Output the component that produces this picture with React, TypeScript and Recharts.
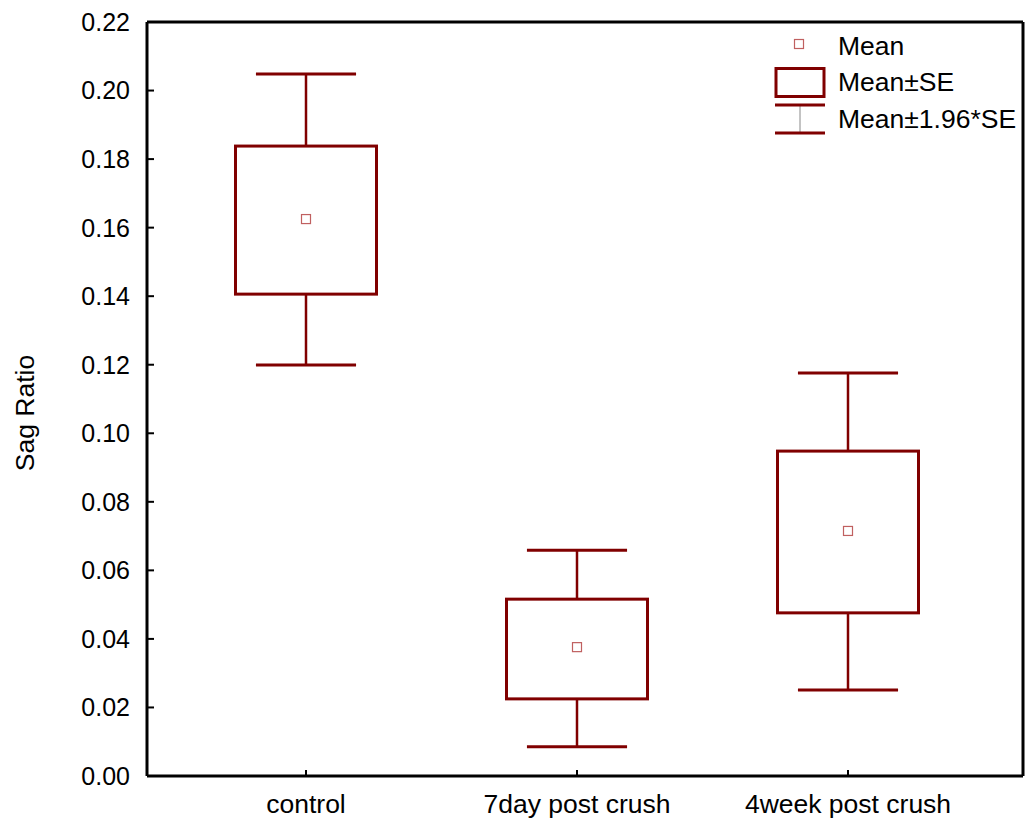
import { ComposedChart, Bar, Scatter, XAxis, YAxis, Label } from 'recharts';

const groups = ['control', '7day post crush', '4week post crush'];
const means = [0.1625, 0.0376, 0.0715];
const seLow = [0.1406, 0.0225, 0.0476];
const seHigh = [0.1838, 0.0516, 0.0948];
const ciLow = [0.1199, 0.0085, 0.0251];
const ciHigh = [0.2048, 0.0659, 0.1176];
const yTicks = [0, 0.02, 0.04, 0.06, 0.08, 0.1, 0.12, 0.14, 0.16, 0.18, 0.2, 0.22];

const data = groups.map((name, i) => ({
  name,
  mean: means[i],
  seLow: seLow[i],
  seHigh: seHigh[i],
  ciLow: ciLow[i],
  ciHigh: ciHigh[i],
  range: [ciLow[i], ciHigh[i]],
}));

const RED = '#800000';
const FONT = '"Liberation Sans", Arial, sans-serif';
const FS = 25;
const FS2 = 26.5;

function BoxShape(props: any) {
  const { x, y, width, height, payload } = props;
  const top = payload.ciHigh;
  const bottom = payload.ciLow;
  const py = (v: number) => y + ((top - v) / (top - bottom)) * height;
  const cx = x + width / 2;
  const cap = width * 0.355;
  return (
    <g>
      <line x1={cx} x2={cx} y1={py(payload.ciHigh)} y2={py(payload.seHigh)} stroke={RED} strokeWidth={2.5} />
      <line x1={cx} x2={cx} y1={py(payload.seLow)} y2={py(payload.ciLow)} stroke={RED} strokeWidth={2.5} />
      <line x1={cx - cap} x2={cx + cap} y1={py(payload.ciHigh)} y2={py(payload.ciHigh)} stroke={RED} strokeWidth={3} />
      <line x1={cx - cap} x2={cx + cap} y1={py(payload.ciLow)} y2={py(payload.ciLow)} stroke={RED} strokeWidth={3} />
      <rect
        x={x}
        y={py(payload.seHigh)}
        width={width}
        height={py(payload.seLow) - py(payload.seHigh)}
        fill="#fff"
        stroke={RED}
        strokeWidth={3}
      />
    </g>
  );
}

function MeanShape(props: any) {
  const { cx, cy } = props;
  return <rect x={cx - 4.5} y={cy - 4.5} width={9} height={9} fill="#fff" stroke="#c06060" strokeWidth={1.2} />;
}

function LegendBox() {
  const t = { fontSize: FS2, fontFamily: FONT, fill: '#000' };
  return (
    <svg width={270} height={125} style={{ position: 'absolute', left: 760, top: 20 }}>
      <rect x={34.5} y={19.5} width={9} height={9} fill="#fff" stroke="#c06060" strokeWidth={1.2} />
      <text x={78} y={35} {...t}>Mean</text>
      <rect x={16} y={48.5} width={48} height={28} fill="#fff" stroke={RED} strokeWidth={3} />
      <text x={78} y={71} {...t}>Mean±SE</text>
      <line x1={40} x2={40} y1={85} y2={113} stroke="#888" strokeWidth={1} />
      <line x1={15} x2={65} y1={85} y2={85} stroke={RED} strokeWidth={3} />
      <line x1={15} x2={65} y1={113} y2={113} stroke={RED} strokeWidth={3} />
      <text x={78} y={108} {...t}>Mean±1.96*SE</text>
    </svg>
  );
}

export default function App() {
  const tickStyle = { fill: '#000', fontSize: FS, fontFamily: FONT };
  const xTickStyle = { fill: '#000', fontSize: FS2, fontFamily: FONT };
  return (
    <div style={{ position: 'fixed', left: 0, top: 0, width: 1030, height: 826, background: '#fff', fontFamily: FONT }}>
      <ComposedChart width={1030} height={826} data={data} margin={{ top: 21, right: 6, bottom: 0, left: 0 }}>
        <XAxis
          dataKey="name"
          padding={{ left: 23.5, right: 39.5 }}
          axisLine={{ stroke: '#000', strokeWidth: 3 }}
          tickLine={{ stroke: '#000', strokeWidth: 2 }}
          tickSize={-6}
          tickMargin={24}
          tick={xTickStyle}
          height={50}
        />
        <XAxis xAxisId="top" dataKey="name" orientation="top" height={1} tick={false} tickLine={false} axisLine={{ stroke: '#000', strokeWidth: 3 }} />
        <YAxis
          domain={[0, 0.22]}
          ticks={yTicks}
          interval={0}
          tickFormatter={(v: number) => v.toFixed(2)}
          width={147}
          axisLine={{ stroke: '#000', strokeWidth: 3 }}
          tickLine={{ stroke: '#000', strokeWidth: 2 }}
          tickSize={-7}
          tickMargin={24}
          tick={tickStyle}
        >
          <Label
            content={(p: any) => {
              const vb = p.viewBox;
              const lx = vb.x + 25;
              const ly = vb.y + vb.height / 2 + 14;
              return (
                <text x={lx} y={ly} transform={`rotate(-90, ${lx}, ${ly})`} textAnchor="middle" dominantBaseline="central" fontSize={FS2} fontFamily={FONT} fill="#000">
                  Sag Ratio
                </text>
              );
            }}
          />
        </YAxis>
        <YAxis
          yAxisId="r"
          orientation="right"
          domain={[0, 0.22]}
          ticks={yTicks}
          interval={0}
          width={1}
          tick={false}
          axisLine={{ stroke: '#000', strokeWidth: 3 }}
          tickLine={{ stroke: '#000', strokeWidth: 2 }}
          tickSize={-7}
        />
        <Bar dataKey="range" barSize={141} shape={BoxShape} isAnimationActive={false} />
        <Scatter dataKey="mean" shape={MeanShape} isAnimationActive={false} />
      </ComposedChart>
      <LegendBox />
    </div>
  );
}
